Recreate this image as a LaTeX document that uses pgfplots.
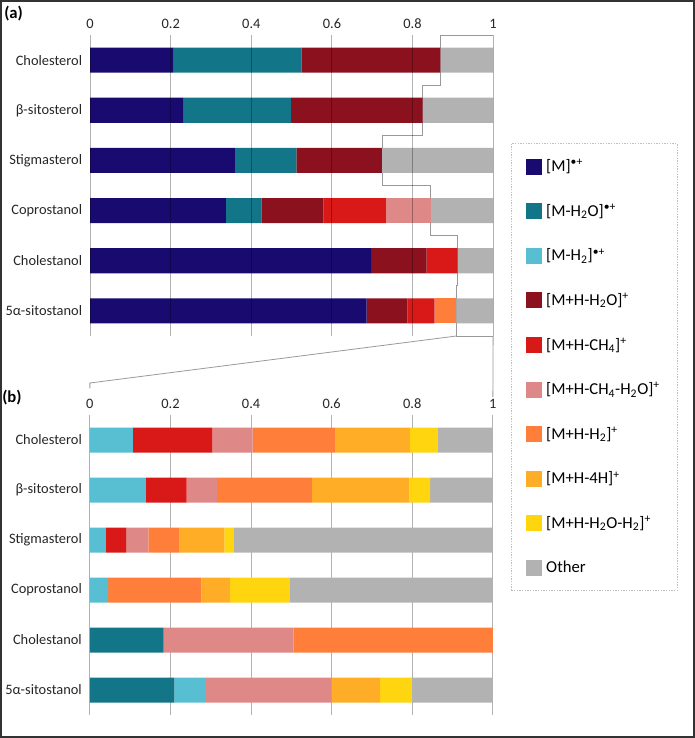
\documentclass[border=0pt]{standalone}
\usepackage{fontspec}
\setmainfont{Carlito}
\usepackage{pgfplots}
\pgfplotsset{compat=1.18}
\usepackage{pgfplotstable}

\definecolor{cM}{RGB}{24,10,110}
\definecolor{cMW}{RGB}{19,118,136}
\definecolor{cMH}{RGB}{88,191,210}
\definecolor{cPW}{RGB}{139,17,31}
\definecolor{cPC}{RGB}{217,24,24}
\definecolor{cPCW}{RGB}{222,136,136}
\definecolor{cPH}{RGB}{255,127,58}
\definecolor{cPF}{RGB}{255,173,38}
\definecolor{cPWH}{RGB}{255,213,16}
\definecolor{cO}{RGB}{178,178,178}

% columns: M, [M-H2O], [M-H2], [M+H-H2O], [M+H-CH4], [M+H-CH4-H2O], [M+H-H2], [M+H-4H], [M+H-H2O-H2], Other
\pgfplotstableread{
y M MW MH PW PC PCW PH PF PWH O
0 0.207 0.317 0 0.345 0 0 0 0 0 0.131
1 0.232 0.266 0 0.327 0 0 0 0 0 0.175
2 0.359 0.153 0 0.212 0 0 0 0 0 0.276
3 0.337 0.088 0 0.154 0.155 0.111 0 0 0 0.155
4 0.697 0 0 0.138 0.077 0 0 0 0 0.088
5 0.686 0 0 0.101 0.068 0 0.054 0 0 0.091
}\tabA

\pgfplotstableread{
y M MW MH PW PC PCW PH PF PWH O
0 0 0 0.107 0 0.197 0.100 0.206 0.184 0.068 0.138
1 0 0 0.139 0 0.101 0.075 0.236 0.242 0.051 0.156
2 0 0 0.040 0 0.050 0.055 0.076 0.113 0.022 0.644
3 0 0 0.045 0 0 0 0.232 0.071 0.148 0.504
4 0 0.183 0 0 0 0.322 0.495 0 0 0
5 0 0.210 0.078 0 0 0.312 0 0.120 0.078 0.202
}\tabB

\pgfplotsset{
  barax/.style={
    xbar stacked, scale only axis, width=302.25pt, bar width=0.5,
    xmin=0, xmax=1, ymin=-0.5, ymax=5.5, y dir=reverse,
    enlargelimits=false,
    xtick={0,0.2,0.4,0.6,0.8,1}, ytick={0,1,2,3,4,5},
    yticklabels={Cholesterol,β-sitosterol,Stigmasterol,Coprostanol,Cholestanol,5α-sitostanol},
    xticklabel pos=upper,
    major tick length=0pt,
    axis line style={draw=none},
    xmajorgrids, ymajorgrids=false,
    major grid style={black, opacity=0.3, line width=0.75pt},
    tick label style={font=\fontsize{10.8}{12}\selectfont, color=black!85},
    xticklabel style={yshift=1.5pt},
    yticklabel style={xshift=-2.5pt},
    /pgf/number format/assume math mode=true,
    clip=false,
    legend image code/.code={\fill[##1] (0pt,-6pt) rectangle (12pt,6pt); \path (13.5pt,0pt);},
  },
}

\begin{document}
\begin{tikzpicture}
\useasboundingbox (0,0) rectangle (521.25pt,-553.5pt);

\begin{axis}[barax, name=A, height=225.75pt, at={(67.6pt,-26.25pt)}, anchor=north west,
  axis on top,
  legend style={at={(1.0439,0.6412)}, anchor=north west,
    draw=black!25, dash pattern=on 1pt off 1pt, line width=0.6pt,
    font=\fontsize{12.5}{14}\selectfont, row sep=18.8pt,
    inner xsep=10.75pt, inner ysep=10pt, cells={anchor=west}},
  legend cell align=left,
]
\addplot[fill=cM, draw=none] table[x=M, y=y]{\tabA};
\addplot[fill=cMW, draw=none] table[x=MW, y=y]{\tabA};
\addplot[fill=cMH, draw=none] table[x=MH, y=y]{\tabA};
\addplot[fill=cPW, draw=none] table[x=PW, y=y]{\tabA};
\addplot[fill=cPC, draw=none] table[x=PC, y=y]{\tabA};
\addplot[fill=cPCW, draw=none] table[x=PCW, y=y]{\tabA};
\addplot[fill=cPH, draw=none] table[x=PH, y=y]{\tabA};
\addplot[fill=cPF, draw=none] table[x=PF, y=y]{\tabA};
\addplot[fill=cPWH, draw=none] table[x=PWH, y=y]{\tabA};
\addplot[fill=cO, draw=none] table[x=O, y=y]{\tabA};
\legend{
  {}[M]\textsuperscript{\textbullet+},
  {}[M-H\textsubscript{2}O]\textsuperscript{\textbullet+},
  {}[M-H\textsubscript{2}]\textsuperscript{\textbullet+},
  {}[M+H-H\textsubscript{2}O]\textsuperscript{+},
  {}[M+H-CH\textsubscript{4}]\textsuperscript{+},
  {}[M+H-CH\textsubscript{4}-H\textsubscript{2}O]\textsuperscript{+},
  {}[M+H-H\textsubscript{2}]\textsuperscript{+},
  {}[M+H-4H]\textsuperscript{+},
  {}[M+H-H\textsubscript{2}O-H\textsubscript{2}]\textsuperscript{+},
  Other}
\draw[black!40, line width=0.6pt] (axis cs:1,-0.5) -- (axis cs:0.869,-0.5) -- (axis cs:0.869,0.5)
  -- (axis cs:0.825,0.5) -- (axis cs:0.825,1.5) -- (axis cs:0.724,1.5) -- (axis cs:0.724,2.5)
  -- (axis cs:0.845,2.5) -- (axis cs:0.845,3.5) -- (axis cs:0.912,3.5) -- (axis cs:0.912,4.5)
  -- (axis cs:0.909,4.5) -- (axis cs:0.909,5.5) -- (axis cs:1,5.5);
\coordinate (aL) at (axis cs:0.909,5.5);
\coordinate (aR) at (axis cs:1,5.5);
\end{axis}

\begin{axis}[barax, name=B, height=225pt, at={(67.4pt,-311.25pt)}, anchor=north west]
\addplot[fill=cM, draw=none] table[x=M, y=y]{\tabB};
\addplot[fill=cMW, draw=none] table[x=MW, y=y]{\tabB};
\addplot[fill=cMH, draw=none] table[x=MH, y=y]{\tabB};
\addplot[fill=cPW, draw=none] table[x=PW, y=y]{\tabB};
\addplot[fill=cPC, draw=none] table[x=PC, y=y]{\tabB};
\addplot[fill=cPCW, draw=none] table[x=PCW, y=y]{\tabB};
\addplot[fill=cPH, draw=none] table[x=PH, y=y]{\tabB};
\addplot[fill=cPF, draw=none] table[x=PF, y=y]{\tabB};
\addplot[fill=cPWH, draw=none] table[x=PWH, y=y]{\tabB};
\addplot[fill=cO, draw=none] table[x=O, y=y]{\tabB};
\coordinate (bL) at (axis cs:0,-0.5);
\coordinate (bR) at (axis cs:1,-0.5);
\end{axis}

\draw[black!40, line width=0.6pt] (aL) -- ([yshift=24pt]bL) -- ([yshift=20pt]bL);
\draw[black!40, line width=0.6pt] (aR) -- ([yshift=13.5pt]bR);

\node[anchor=west, font=\bfseries\fontsize{12.5}{14}\selectfont, inner sep=0pt] at (3pt,-10.5pt) {(a)};
\node[anchor=west, font=\bfseries\fontsize{12.5}{14}\selectfont, inner sep=0pt] at (1.5pt,-298.5pt) {(b)};

\draw[black!80, line width=1.5pt] (0.75pt,-0.75pt) rectangle (520.25pt,-552.5pt);
\end{tikzpicture}
\end{document}
